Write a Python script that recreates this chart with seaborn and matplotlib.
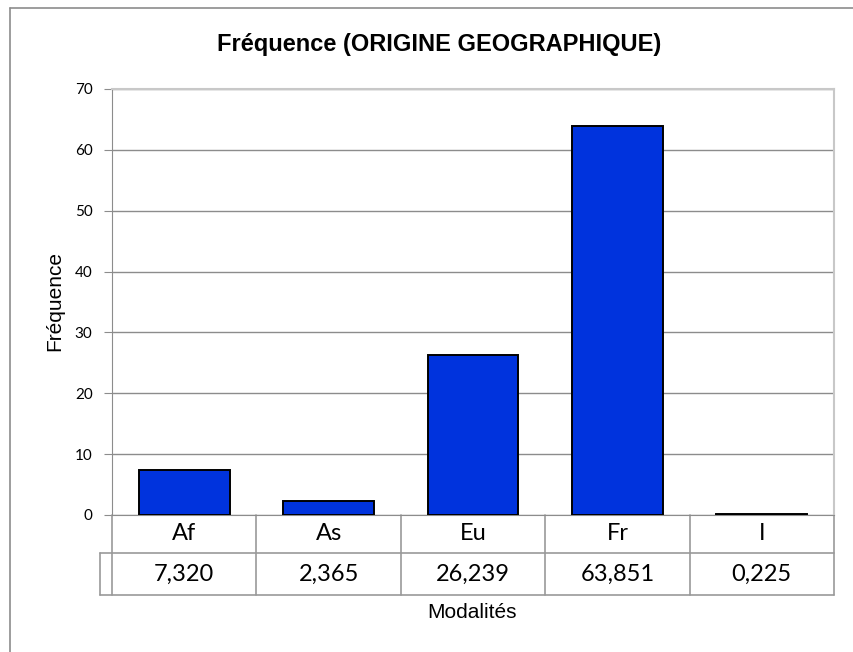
import numpy as np
import pandas as pd
import seaborn as sns
import matplotlib
matplotlib.use("Agg")
import matplotlib.pyplot as plt
from matplotlib.lines import Line2D
from matplotlib.transforms import blended_transform_factory

# data
categories = ["Af", "As", "Eu", "Fr", "I"]
frequences = [7.320, 2.365, 26.239, 63.851, 0.225]
yticks = [0, 10, 20, 30, 40, 50, 60, 70]

df = pd.DataFrame({"Modalite": categories, "Frequence": frequences})

sns.set_style("white")
plt.rcParams['font.family'] = ['Liberation Sans', 'DejaVu Sans']
plt.rcParams['text.color'] = 'black'
plt.rcParams['ytick.labelcolor'] = 'black'

W, H = 854, 652
fig = plt.figure(figsize=(W / 100, H / 100), dpi=100)

# plot area in pixels
left, top, right, bottom = 112, 89, 834, 515
ax = fig.add_axes([left / W, (H - bottom) / H, (right - left) / W, (bottom - top) / H])

sns.barplot(data=df, x="Modalite", y="Frequence", color="#0033dd", saturation=1,
            edgecolor="black", linewidth=1.4, width=0.63, ax=ax, zorder=3)

ax.set_ylim(0, 70)
ax.set_xlim(-0.5, len(categories) - 0.5)
ax.set_yticks(yticks)
ax.set_yticklabels([str(t) for t in yticks], family=['Lato', 'DejaVu Sans'], fontsize=11)
ax.set_xticks([])
ax.set_xlabel("")
ax.set_ylabel("")
ax.yaxis.grid(True, color="#8c8c8c", linewidth=1)
ax.set_axisbelow(True)
ax.tick_params(axis="y", length=6, color="#8c8c8c", pad=8, left=True, labelcolor="black")

for s in ["top", "right"]:
    ax.spines[s].set_color("#c8c8c8")
    ax.spines[s].set_linewidth(1.5)
ax.spines["left"].set_color("#8c8c8c")
ax.spines["bottom"].set_color("#8c8c8c")

# data table below the axis
tr = blended_transform_factory(ax.transData, ax.transAxes)
h_ax = bottom - top
row1 = -(553 - bottom) / h_ax
row2 = -(595 - bottom) / h_ax
xl = -0.5 - 12 / ((right - left) / len(categories))
lc = "#999999"
lw = 1.2

def tline(xs, ys):
    ax.add_line(Line2D(xs, ys, transform=tr, color=lc, lw=lw, clip_on=False))

for i in range(len(categories) + 1):
    b = i - 0.5
    tline([b, b], [0, row2])
tline([xl, xl], [row1, row2])
tline([xl, len(categories) - 0.5], [row1, row1])
tline([xl, len(categories) - 0.5], [row2, row2])

for i, (c, v) in enumerate(zip(categories, frequences)):
    ax.text(i, row1 / 2, c, transform=tr, ha="center", va="center",
            family=['Lato', 'DejaVu Sans'], fontsize=17, color="black")
    ax.text(i, (row1 + row2) / 2, f"{v:.3f}".replace(".", ","), transform=tr,
            ha="center", va="center", family=['Lato', 'DejaVu Sans'], fontsize=17,
            color="black")

# titles
fig.text(439 / W, 1 - 45 / H, "Fréquence (ORIGINE GEOGRAPHIQUE)", ha="center", va="center",
         fontsize=17, fontweight="bold", color="black")
fig.text(55 / W, 1 - 301 / H, "Fréquence", rotation=90, ha="center", va="center",
         fontsize=15, color="black")
fig.text(472 / W, 1 - 613 / H, "Modalités", ha="center", va="center", fontsize=15,
         color="black")

# outer chart frame (cropped on right and bottom)
fig.add_artist(Line2D([10 / W, 1], [1 - 8 / H, 1 - 8 / H], transform=fig.transFigure,
                      color="#8c8c8c", lw=1.2))
fig.add_artist(Line2D([10 / W, 10 / W], [0, 1 - 8 / H], transform=fig.transFigure,
                      color="#8c8c8c", lw=1.2))

fig.savefig("out.png", dpi=100)
